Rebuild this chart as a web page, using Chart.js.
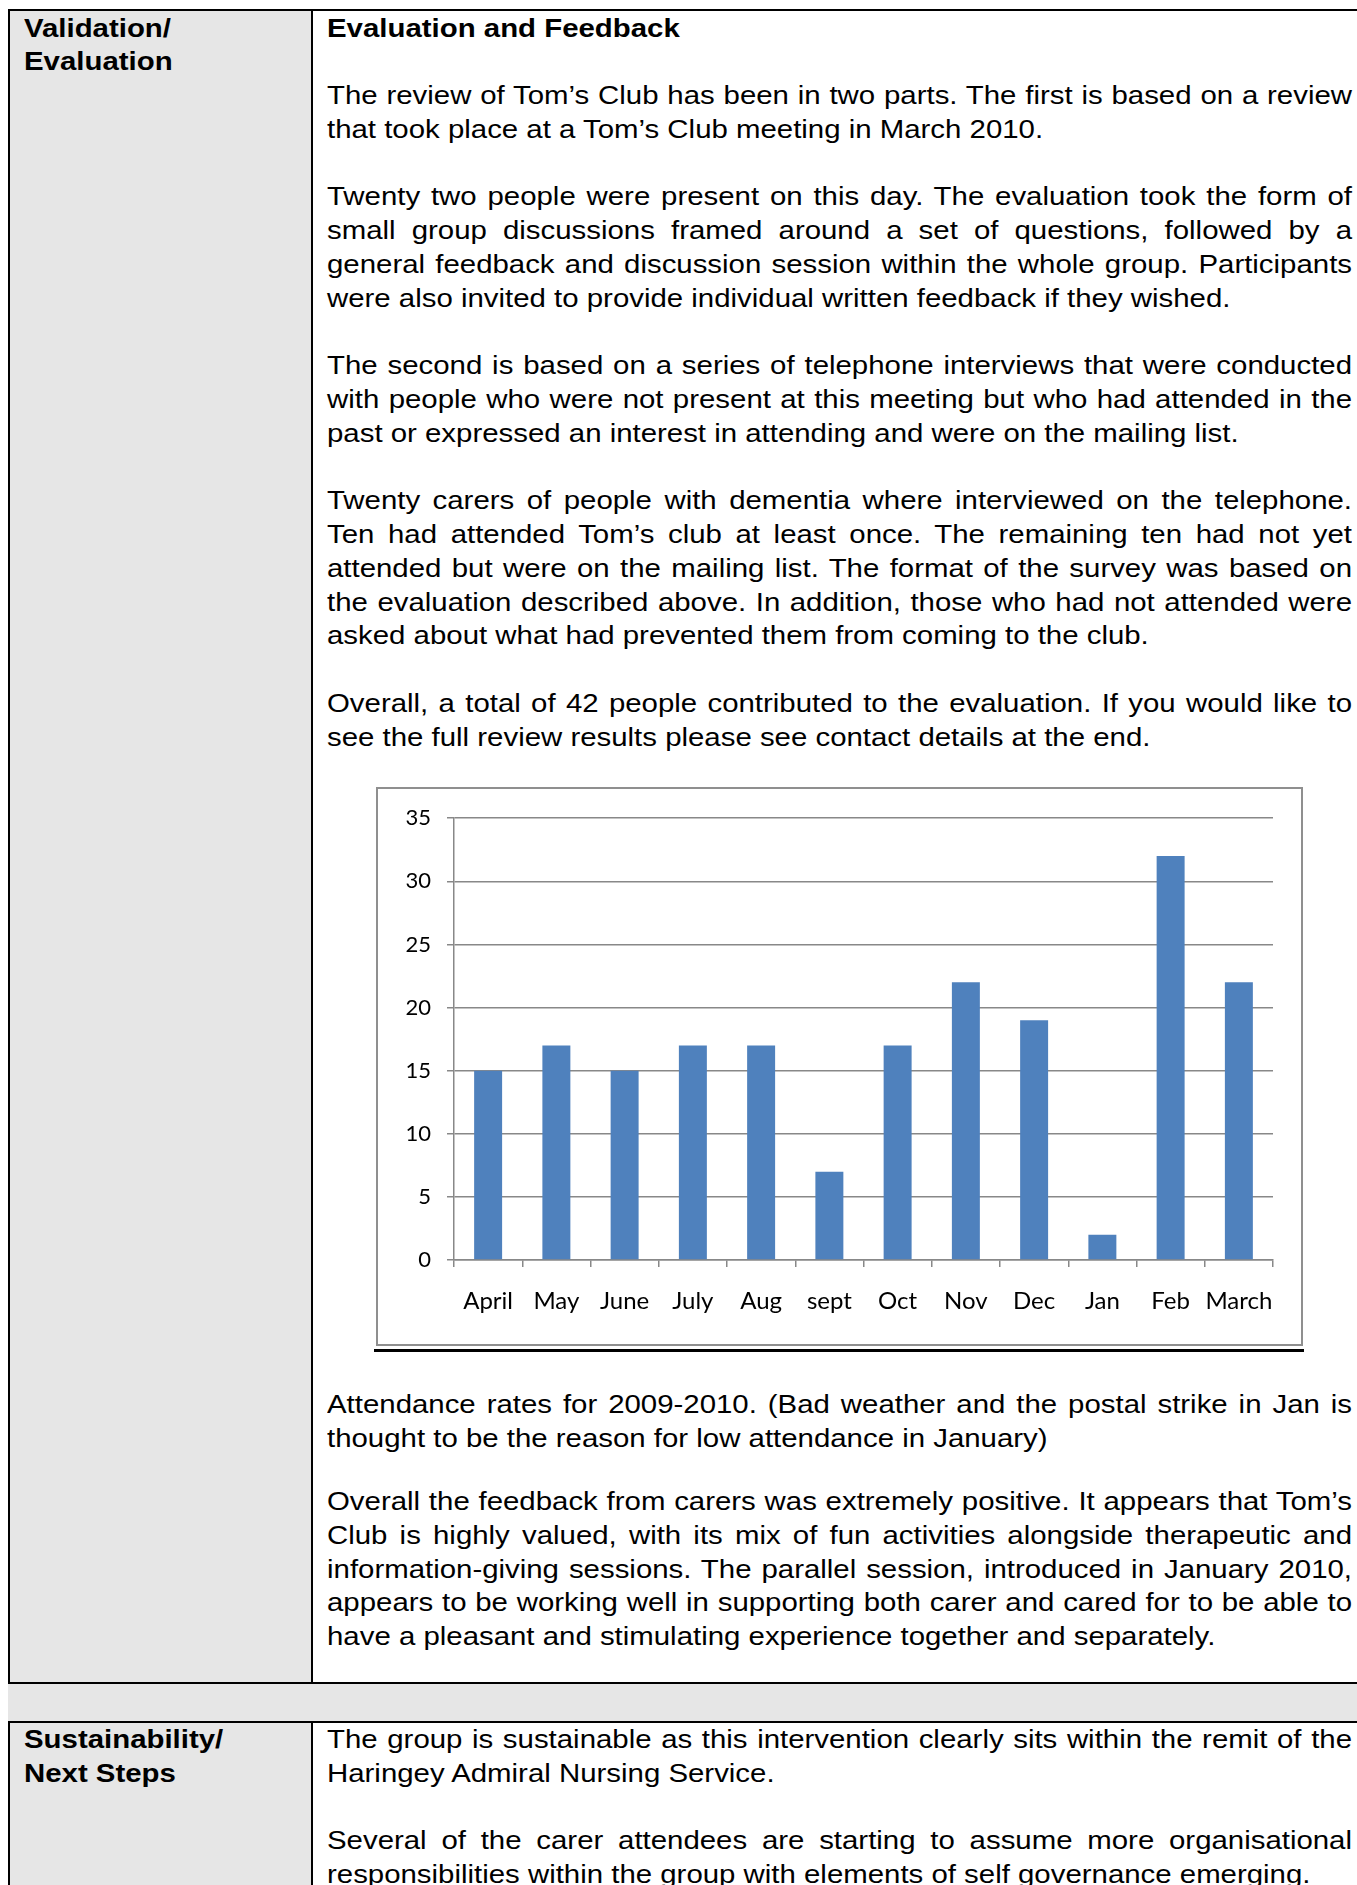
<!DOCTYPE html>
<html>
<head>
<meta charset="utf-8">
<script src="https://cdn.jsdelivr.net/npm/chart.js@4.4.0/dist/chart.umd.min.js"></script>
<style>
  body { margin: 0; width: 1357px; height: 1885px; overflow: hidden; background: #fff; position: relative;
         font-family: "Liberation Sans", Arial, sans-serif; color: #000; }
  .box { position: absolute; }
  .gray { background: #e6e6e6; }
  .blk { background: #000; }
  .ln { position: absolute; height: 34px; line-height: 34px; font-size: 29.4px; white-space: nowrap;
        transform: scaleY(0.86); }
  .r { left: 327px; width: 1025px; }
  .l { left: 24px; }
  .j { text-align: justify; text-align-last: justify; white-space: normal; }
  .b { font-weight: bold; }
  #frame { position: absolute; left: 376px; top: 787px; width: 927px; height: 559px; box-sizing: border-box;
           border: 2px solid #8f8f8f; background: #fff; }
  #chart { position: absolute; left: 378px; top: 789px; }
</style>
</head>
<body>
<!-- first table -->
<div class="box gray" style="left:10px;top:11px;width:301px;height:1671px"></div>
<div class="box blk" style="left:8px;top:9px;width:1349px;height:2px"></div>
<div class="box blk" style="left:8px;top:9px;width:2px;height:1675px"></div>
<div class="box blk" style="left:311px;top:9px;width:2px;height:1675px"></div>
<div class="box blk" style="left:8px;top:1682px;width:1349px;height:2px"></div>
<!-- spacer row -->
<div class="box gray" style="left:8px;top:1684px;width:1349px;height:37px"></div>
<!-- second table -->
<div class="box gray" style="left:10px;top:1723px;width:301px;height:162px"></div>
<div class="box blk" style="left:8px;top:1721px;width:1349px;height:2px"></div>
<div class="box blk" style="left:8px;top:1721px;width:2px;height:164px"></div>
<div class="box blk" style="left:311px;top:1721px;width:2px;height:164px"></div>

<div id="frame"></div>
<canvas id="chart" width="923" height="555"></canvas>
<div class="box blk" style="left:374px;top:1349px;width:930px;height:3px"></div>

<script>
const months = ['April', 'May', 'June', 'July', 'Aug', 'sept', 'Oct', 'Nov', 'Dec', 'Jan', 'Feb', 'March'];
const attendance = [15, 17, 15, 17, 17, 7, 17, 22, 19, 2, 32, 22];
const yMax = 35;
const yStep = 5;

const L = 33.77;

function para(lines, side, cy, bold) {
    lines.forEach((t, i) => {
        const d = document.createElement('div');
        let cls = 'ln ' + side;
        if (bold) cls += ' b';
        if (lines.length > 1 && i < lines.length - 1) cls += ' j';
        d.className = cls;
        d.style.top = (cy + i * L - 17) + 'px';
        d.textContent = t;
        document.body.appendChild(d);
    });
}

// left column headings
para(['Validation/', 'Evaluation'], 'l', 27.6, true);
para(['Sustainability/', 'Next Steps'], 'l', 1739, true);

// right column text
para(['Evaluation and Feedback'], 'r', 27.6, true);
para(['The review of Tom\u2019s Club has been in two parts. The first is based on a review',
      'that took place at a Tom\u2019s Club meeting in March 2010.'], 'r', 27.6 + 2 * L);
para(['Twenty two people were present on this day. The evaluation took the form of',
      'small group discussions framed around a set of questions, followed by a',
      'general feedback and discussion session within the whole group. Participants',
      'were also invited to provide individual written feedback if they wished.'], 'r', 27.6 + 5 * L);
para(['The second is based on a series of telephone interviews that were conducted',
      'with people who were not present at this meeting but who had attended in the',
      'past or expressed an interest in attending and were on the mailing list.'], 'r', 27.6 + 10 * L);
para(['Twenty carers of people with dementia where interviewed on the telephone.',
      'Ten had attended Tom\u2019s club at least once. The remaining ten had not yet',
      'attended but were on the mailing list. The format of the survey was based on',
      'the evaluation described above. In addition, those who had not attended were',
      'asked about what had prevented them from coming to the club.'], 'r', 27.6 + 14 * L);
para(['Overall, a total of 42 people contributed to the evaluation. If you would like to',
      'see the full review results please see contact details at the end.'], 'r', 27.6 + 20 * L);

para(['Attendance rates for 2009-2010. (Bad weather and the postal strike in Jan is',
      'thought to be the reason for low attendance in January)'], 'r', 1404);
para(['Overall the feedback from carers was extremely positive. It appears that Tom\u2019s',
      'Club is highly valued, with its mix of fun activities alongside therapeutic and',
      'information-giving sessions. The parallel session, introduced in January 2010,',
      'appears to be working well in supporting both carer and cared for to be able to',
      'have a pleasant and stimulating experience together and separately.'], 'r', 1501);

para(['The group is sustainable as this intervention clearly sits within the remit of the',
      'Haringey Admiral Nursing Service.'], 'r', 1739);
para(['Several of the carer attendees are starting to assume more organisational',
      'responsibilities within the group with elements of self governance emerging.'], 'r', 1739 + 3 * L);

// attendance chart
new Chart(document.getElementById('chart'), {
    type: 'bar',
    data: {
        labels: months,
        datasets: [{
            data: attendance,
            backgroundColor: '#4F81BD',
            barPercentage: 0.41,
            categoryPercentage: 1
        }]
    },
    options: {
        responsive: false,
        animation: false,
        layout: { padding: { top: 27, right: 28, left: 0, bottom: 0 } },
        plugins: { legend: { display: false }, tooltip: { enabled: false } },
        scales: {
            x: {
                grid: { display: true, drawOnChartArea: false, offset: true, tickLength: 7, color: '#888', lineWidth: 1.5 },
                border: { color: '#888', width: 1.5 },
                ticks: { font: { family: 'Lato', size: 24 }, color: '#000', padding: 20, maxRotation: 0, autoSkip: false },
                afterFit(s) { s.height = 84; }
            },
            y: {
                min: 0,
                max: yMax,
                grid: { color: '#888', lineWidth: 1.5, tickLength: 7 },
                border: { color: '#888', width: 1.5 },
                ticks: { stepSize: yStep, font: { family: 'Lato', size: 22 }, color: '#000', padding: 16 },
                afterFit(s) { s.width = 76; }
            }
        }
    }
});
</script>
</body>
</html>
